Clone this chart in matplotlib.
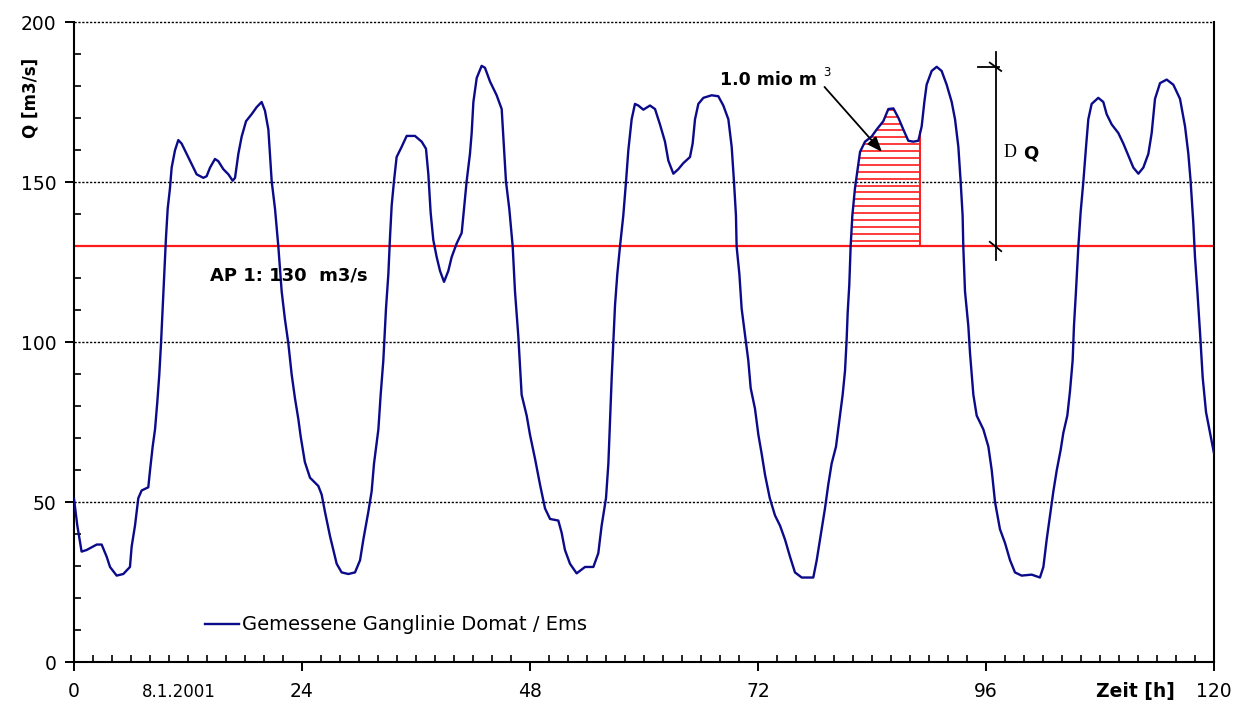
import numpy as np
import matplotlib
matplotlib.use("Agg")
import matplotlib.pyplot as plt
from matplotlib.ticker import MultipleLocator

# Measured discharge hydrograph Domat/Ems (hours from 8.1.2001, m3/s)
hours = [
    0.0, 0.35, 0.8, 1.33, 2.39, 2.91, 3.44, 3.79, 4.49, 5.19, 5.89, 6.07, 6.42, 6.77,
    7.12, 7.82, 8.0, 8.28, 8.53, 8.77, 8.98, 9.16, 9.33, 9.51, 9.68, 9.86, 10.1, 10.28,
    10.63, 10.98, 11.33, 11.86, 12.39, 12.91, 13.61, 13.96, 14.32, 14.84, 15.19, 15.72,
    16.25, 16.7, 16.95, 17.3, 17.65, 18.11, 18.7, 19.23, 19.75, 20.1, 20.46, 20.81,
    21.16, 21.51, 21.86, 22.2, 22.56, 22.91, 23.26, 23.61, 23.86, 24.3, 24.84, 25.72,
    26.07, 26.42, 26.95, 27.3, 27.65, 28.17, 28.88, 29.58, 30.11, 30.46, 30.98, 31.33,
    31.58, 32.04, 32.28, 32.56, 32.84, 33.09, 33.26, 33.44, 33.68, 33.96, 34.49, 35.02,
    35.89, 36.6, 37.05, 37.3, 37.54, 37.82, 38.18, 38.53, 38.95, 39.4, 39.75, 40.28,
    40.81, 41.05, 41.33, 41.68, 41.86, 42.04, 42.39, 42.91, 43.26, 43.79, 44.49, 45.02,
    45.19, 45.47, 45.82, 46.18, 46.42, 46.77, 46.95, 47.12, 47.65, 48.0, 48.53, 49.05,
    49.58, 50.11, 50.98, 51.33, 51.68, 52.21, 52.91, 53.79, 54.67, 55.19, 55.54, 56.0,
    56.25, 56.42, 56.6, 56.77, 56.95, 57.19, 57.47, 57.82, 58.11, 58.35, 58.7, 59.05,
    59.4, 59.93, 60.63, 61.16, 61.68, 62.21, 62.56, 63.09, 63.61, 64.14, 64.84, 65.12,
    65.37, 65.72, 66.25, 67.12, 67.82, 68.35, 68.88, 69.23, 69.47, 69.68, 69.75, 70.04,
    70.28, 70.74, 70.98, 71.23, 71.68, 72.04, 72.39, 72.74, 73.24, 73.79, 74.32, 74.84,
    75.37, 75.89, 76.6, 77.82, 78.18, 78.53, 79.05, 79.4, 79.75, 80.21, 80.63, 80.91,
    81.16, 81.33, 81.44, 81.61, 81.75, 81.93, 82.21, 82.56, 82.74, 83.26, 83.96, 84.49,
    85.19, 85.72, 86.25, 86.77, 87.3, 87.82, 88.35, 88.88, 89.23, 89.51, 89.75, 90.28,
    90.81, 91.33, 91.86, 92.39, 92.74, 93.09, 93.33, 93.54, 93.61, 93.79, 94.14, 94.32,
    94.67, 95.02, 95.72, 96.25, 96.6, 96.95, 97.47, 98.0, 98.53, 99.05, 99.75, 100.81,
    101.68, 102.04, 102.39, 102.74, 103.09, 103.44, 103.86, 104.14, 104.56, 104.84,
    105.12, 105.26, 105.47, 105.72, 105.96, 106.25, 106.53, 106.77, 107.12, 107.82,
    108.35, 108.7, 109.23, 109.93, 110.46, 110.98, 111.51, 112.04, 112.56, 113.09,
    113.44, 113.79, 114.32, 115.02, 115.72, 116.42, 116.95, 117.3, 117.54, 117.82,
    118.0, 118.25, 118.53, 118.81, 119.16, 119.58, 120.0,
]
discharge = [
    51, 42.6, 34.5, 35, 36.7, 36.7, 32.9, 29.7, 27, 27.5, 29.7, 36.1, 42.6, 51.2,
    53.6, 54.6, 59.8, 67.3, 72.7, 81.3, 89.9, 99.6, 110.4, 121.2, 132.5, 141.6, 148, 154.5,
    159.9, 163.1, 162, 158.8, 155.6, 152.4, 151.3, 151.8, 154.5, 157.2, 156.5, 154,
    152.4, 150.4, 151.3, 158.8, 164.2, 169, 171.2, 173.4, 175, 172.3, 166.4, 150.2,
    141.6, 129.8, 115.8, 107.2, 99.6, 89.9, 82.4, 76, 70.5, 62.5, 57.6, 55,
    52.3, 46.9, 39.3, 35, 30.7, 28, 27.5, 28, 31.8, 38.3, 46.9, 53.3,
    62, 72.7, 83.5, 94.2, 110.4, 121.2, 132.5, 142.7, 150.2, 157.8, 161, 164.4,
    164.4, 162.6, 160.4, 152.4, 140.5, 131.9, 126.5, 122.2, 118.8, 122.2, 126.5, 130.8,
    134.1, 141.6, 150.2, 158.8, 165.3, 175, 182.5, 186.3, 185.7, 181.4, 177.1, 172.8,
    164.2, 150.2, 141.6, 129.8, 115.8, 101.8, 92.1, 83.5, 77, 71, 63.5, 55.5,
    48, 44.7, 44.2, 40.4, 35, 30.7, 27.7, 29.7, 29.7, 34, 42.6, 51.2,
    62, 74.9, 88.9, 99.6, 111.5, 121.2, 129.8, 139.5, 150.2, 159.9, 169.6, 174.4,
    173.9, 172.6, 173.9, 172.8, 168, 162.6, 156.7, 152.6, 154, 155.9, 157.8, 162,
    169.6, 174.4, 176.3, 177.1, 176.8, 173.9, 169.6, 161, 150.2, 139.5, 129.8, 121.2,
    110.4, 99.6, 94.2, 85.6, 79.2, 71, 65, 58.5, 51.2, 45.8, 42.6, 38.3,
    32.9, 28, 26.4, 26.4, 31.8, 38.3, 48, 55.5, 62, 67.3, 77, 83.5,
    91, 100.7, 109.2, 117.9, 129.8, 139.5, 148.1, 155.6, 159.4, 162.6, 164.2, 166.4,
    169, 172.8, 173, 170.1, 166.4, 162.9, 162.6, 162.9, 167.4, 175, 180.4, 184.7,
    186, 184.7, 180.4, 175, 169.6, 161, 150.2, 139.5, 129.8, 115.8, 105, 96.4,
    83.5, 77, 72.7, 67.3, 60, 50, 41.5, 37.2, 31.8, 28, 27, 27.3,
    26.4, 29.7, 38.3, 45.8, 53.3, 59.8, 66.3, 71.6, 77, 84.6,
    94.2, 105, 115.8, 129.8, 140.5, 150.2, 161, 169.6, 174.4, 176.3,
    175, 171.2, 168, 165.3, 162, 158.3, 154.5, 152.6, 154.5, 158.8,
    165.3, 176, 180.9, 182, 180.4, 176, 167.4, 158.8, 150.2, 137.3,
    126.5, 115.8, 102.9, 88.9, 78.1, 71.6, 65.2,
]

ap1_level = 130          # operating point AP 1 [m3/s]
volume_window = (81.5, 89.0)   # hours bounding the 1.0 mio m3 volume
dq_top = 186.0           # top of the ΔQ range [m3/s]

x_major = [0, 24, 48, 72, 96, 120]
x_major_labels = ["0", "24", "48", "72", "96", "120"]
y_major = [0, 50, 100, 150, 200]
grid_levels = [50, 100, 150, 200]

navy = "#0a0a8a"
red = "#ff1a1a"

fig = plt.figure(figsize=(12.36, 7.06), dpi=100)
ax = fig.add_axes([74 / 1236, 44 / 706, 1140 / 1236, 640 / 706])
ax.set_xlim(0, 120)
ax.set_ylim(0, 200)

# dotted horizontal grid
for g in grid_levels:
    ax.axhline(g, color="black", lw=1.0, ls=(0, (1.6, 1.2)), zorder=1, clip_on=False)

# operating point line
ax.axhline(ap1_level, color=red, lw=1.6, zorder=2)

# hatched volume above AP 1 inside the window
h_arr = np.asarray(hours, dtype=float)
q_arr = np.asarray(discharge, dtype=float)
xs = np.linspace(volume_window[0], volume_window[1], 3000)
qs = np.interp(xs, h_arr, q_arr)
for lev in np.arange(ap1_level + 1.7, qs.max(), 2.15):
    above = qs >= lev
    idx = np.flatnonzero(np.diff(np.concatenate(([0], above.astype(int), [0]))))
    for s, e in zip(idx[::2], idx[1::2]):
        ax.plot([xs[s], xs[e - 1]], [lev, lev], color=red, lw=1.2, zorder=2,
                solid_capstyle="butt")
ax.plot([volume_window[1], volume_window[1]], [ap1_level, 165.5], color=red, lw=1.4,
        zorder=2)

# hydrograph
line, = ax.plot(hours, discharge, color=navy, lw=1.7, zorder=3,
                label="Gemessene Ganglinie Domat / Ems")

# ΔQ dimension line
ax.plot([97.05, 97.05], [125.6, 190.7], color="black", lw=1.3, zorder=4)
ax.plot([95.2, 97.4], [dq_top, dq_top], color="black", lw=1.3, zorder=4)
ax.plot([96.4, 97.6], [dq_top + 1.3, dq_top - 1.3], color="black", lw=1.3, zorder=4)
ax.plot([96.4, 97.6], [ap1_level + 1.3, ap1_level - 1.6], color="black", lw=1.3, zorder=4)
ax.text(98.55, 159.3, "D", family="Liberation Serif", fontsize=13, ha="center",
        va="center")
ax.text(100.7, 158.8, "Q", fontsize=13, fontweight="bold", ha="center", va="center")

# volume annotation
ax.text(68.0, 181.9, "1.0 mio m", fontsize=12.5, fontweight="bold", ha="left",
        va="center")
ax.text(79.2, 184.3, "3", fontsize=8.5, ha="center", va="center")
ax.annotate("", xy=(85.05, 159.4), xytext=(79.0, 179.7),
            arrowprops=dict(arrowstyle="-|>,head_length=0.9,head_width=0.35",
                            color="black", lw=1.3, shrinkA=0, shrinkB=0), zorder=5)

# AP 1 label
ax.text(14.3, 120.9, "AP 1: 130  m3/s", fontsize=13, fontweight="bold", ha="left",
        va="center")

# axes styling
ax.spines["top"].set_visible(False)
for side in ("left", "bottom", "right"):
    ax.spines[side].set_linewidth(1.5)
    ax.spines[side].set_color("black")

ax.set_xticks(x_major)
ax.set_xticklabels(x_major_labels)
ax.set_yticks(y_major)
ax.xaxis.set_minor_locator(MultipleLocator(2))
ax.yaxis.set_minor_locator(MultipleLocator(10))
ax.tick_params(axis="both", which="major", direction="out", length=6.5, width=1.4,
               labelsize=13.5)
ax.tick_params(axis="x", which="major", pad=8)
ax.tick_params(axis="y", which="major", pad=6)
ax.tick_params(axis="both", which="minor", direction="in", length=5, width=1.2)
ax.tick_params(right=False, top=False, which="both")

ax.text(111.7, -9.2, "Zeit [h]", fontsize=13.5, fontweight="bold", ha="center",
        va="center", clip_on=False)
ax.text(11.05, -9.4, "8.1.2001", fontsize=12, ha="center", va="center", clip_on=False)
ax.text((31 - 74) / 1140, (662 - 98) / 640, "Q [m3/s]", transform=ax.transAxes,
        fontsize=12, fontweight="bold", rotation=90, ha="center", va="center")

# legend
ax.legend(handles=[line], loc="center left", bbox_to_anchor=(131 / 1140, 37 / 640),
          frameon=False, fontsize=14, handlelength=1.75, handletextpad=0.15,
          borderaxespad=0, borderpad=0)

fig.savefig("out.png", dpi=100)
